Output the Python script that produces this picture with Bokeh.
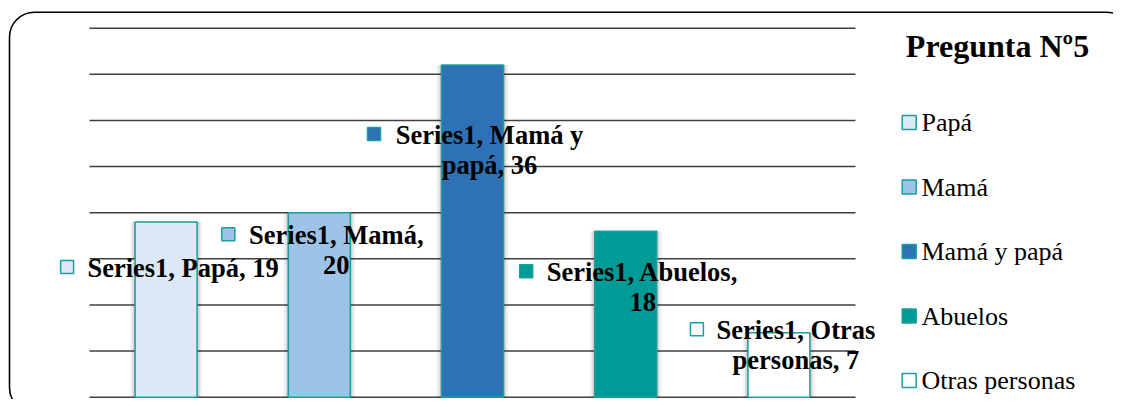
from bokeh.plotting import figure
from bokeh.models import Range1d, BoxAnnotation, ColumnDataSource
from bokeh.core.properties import value
from bokeh.embed import file_html
from bokeh.resources import INLINE

# ---------------- data ----------------
categories = ["Papá", "Mamá", "Mamá y papá", "Abuelos", "Otras personas"]
values = [19, 20, 36, 18, 7]
series_name = "Series1"
y_ticks = [0, 5, 10, 15, 20, 25, 30, 35, 40]
title_text = "Pregunta Nº5"

# ---------------- style ----------------
fill_colors = ["#DCE8F5", "#9DC3E6", "#2E72B5", "#009B96", "#FFFFFF"]
edge_color = "#17A09C"
grid_color = "#404040"
SERIF = value("Liberation Serif")

# ---------------- layout (canvas px) ----------------
W, H = 1113, 399
PLOT_LEFT = 89.0      # left end of category band
CAT_PX = 153.2        # width of one category band
BASE_Y = 396.7        # pixel row of value 0
UNIT_PX = 9.225       # pixels per value unit
BAR_PX = 62.0

label_words_line1 = [3, 2, 3, 2, 2]
label_dy = [46.0, 22.5, 70.0, 41.0, -2.5]      # px below bar top, first line centre
key_dx = [-99.0, -91.0, -98.5, -99.5, -82.0]    # px from bar centre to key square
TEXT_DX = 17.0
LINE_PX = 30.0

LEG_KEY_X = 908.7
LEG_TEXT_X = 921.0
LEG_Y0 = 122.0
LEG_STEP = 64.5


def px_to_x(px):
    return (px - PLOT_LEFT) / CAT_PX - 0.5


def px_to_y(py):
    return (BASE_Y - py) / UNIT_PX


p = figure(width=W, height=H,
           x_range=Range1d(px_to_x(0), px_to_x(W)),
           y_range=Range1d(px_to_y(H), px_to_y(0)),
           min_border=0, toolbar_location=None, output_backend="svg",
           x_axis_location=None, y_axis_location=None)
p.grid.visible = False
p.outline_line_color = None
p.background_fill_color = "white"
p.border_fill_color = "white"

n = len(categories)
idx = list(range(n))

# grid lines
p.segment(x0=[-0.5] * len(y_ticks), x1=[n - 0.5] * len(y_ticks),
          y0=y_ticks, y1=y_ticks, line_color=grid_color, line_width=1.5)

# bars (with soft shadow)
src = ColumnDataSource(dict(x=idx, top=values, fill=fill_colors, cat=categories))
for extra, alpha in [(10, 0.05), (6, 0.07), (3, 0.09)]:
    p.vbar(x="x", top="top", bottom=0, width=(BAR_PX + extra) / CAT_PX, source=src,
           fill_color="black", fill_alpha=alpha, line_color=None)
p.vbar(x="x", top="top", bottom=0, width=BAR_PX / CAT_PX, source=src,
       fill_color="fill", line_color=edge_color, line_width=1.5)

# data labels
l1x, l1y, l1t, l2x, l2y, l2t, kx, ky = [], [], [], [], [], [], [], []
for i, (cat, v) in enumerate(zip(categories, values)):
    words = f"{series_name}, {cat}, {v}".split(" ")
    k = label_words_line1[i]
    y1 = v - label_dy[i] / UNIT_PX
    l1x.append(i + TEXT_DX / CAT_PX)
    l1y.append(y1)
    l1t.append(" ".join(words[:k]))
    if len(words) > k:
        l2x.append(i + TEXT_DX / CAT_PX)
        l2y.append(y1 - LINE_PX / UNIT_PX)
        l2t.append(" ".join(words[k:]))
    kx.append(i + key_dx[i] / CAT_PX)
    ky.append(y1 + 1.0 / UNIT_PX)

for xs, ys, ts in [(l1x, l1y, l1t), (l2x, l2y, l2t)]:
    p.text(x=xs, y=ys, text=ts, text_font=SERIF, text_font_style="bold",
           text_font_size="26.5px", text_align="center", text_baseline="middle",
           text_color="black")
p.scatter(x=kx, y=ky, marker="square", size=13, fill_color=fill_colors,
          line_color=edge_color, line_width=1.5)

# legend
leg_y = [px_to_y(LEG_Y0 + LEG_STEP * i) for i in idx]
p.scatter(x=[px_to_x(LEG_KEY_X)] * n, y=leg_y, marker="square", size=14,
          fill_color=fill_colors, line_color=edge_color, line_width=1.5)
p.text(x=[px_to_x(LEG_TEXT_X)] * n, y=leg_y, text=categories, text_font=SERIF,
       text_font_size="26px", text_align="left", text_baseline="middle",
       text_color="black")

# title
p.text(x=[px_to_x(997)], y=[px_to_y(45)], text=[title_text], text_font=SERIF,
       text_font_style="bold", text_font_size="32px", text_align="center",
       text_baseline="alphabetic", text_color="black")

# rounded chart border
p.add_layout(BoxAnnotation(left=px_to_x(9), right=px_to_x(1131),
                           top=px_to_y(11.7), bottom=px_to_y(412),
                           fill_alpha=0, fill_color=None, line_color="black",
                           line_alpha=1.0, line_width=1.6, border_radius=25))

open("out.html", "w").write(file_html(p, INLINE))
